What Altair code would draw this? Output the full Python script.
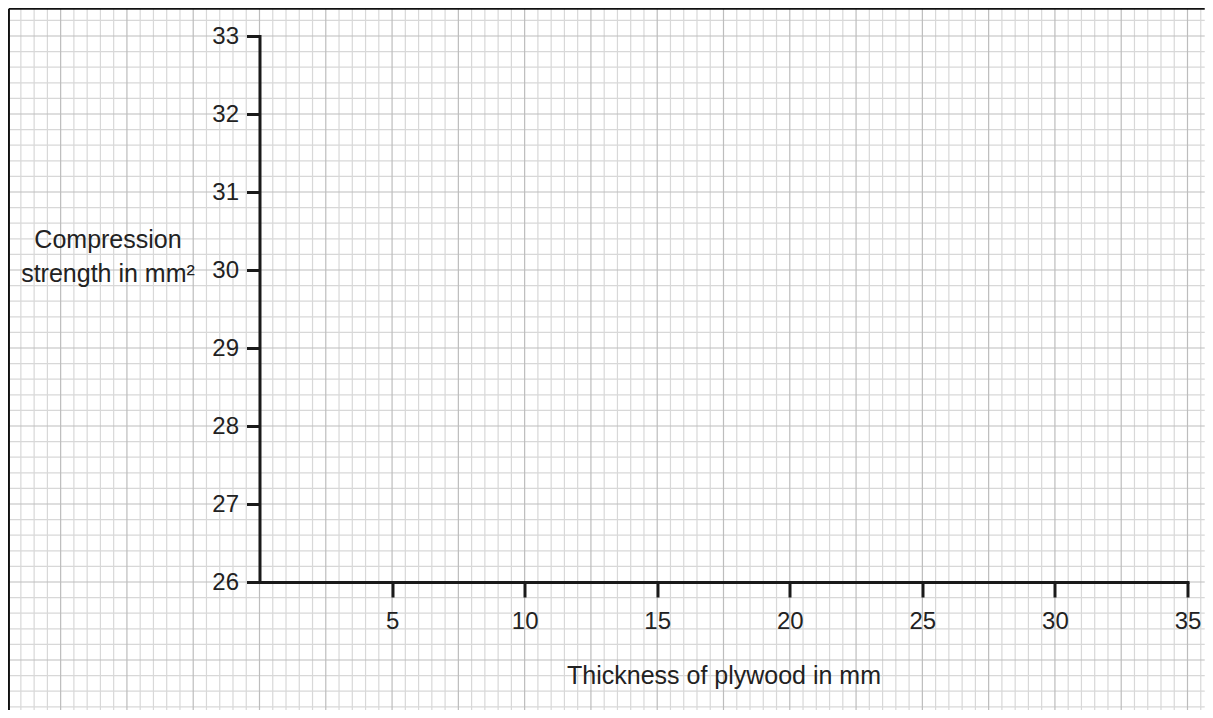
import altair as alt
import numpy as np
import pandas as pd

# ---- chart content -------------------------------------------------------
X_TICKS = [5, 10, 15, 20, 25, 30, 35]
Y_TICKS = [26, 27, 28, 29, 30, 31, 32, 33]
X_DOMAIN = [0, 35]
Y_DOMAIN = [26, 33]
X_TITLE = "Thickness of plywood in mm"
Y_TITLE = ["Compression", "strength in mm²"]

# ---- graph-paper background (in data units) -------------------------------
GRID_X = np.round(np.arange(-9.0, 35.51, 0.5), 2)
GRID_Y = np.round(np.arange(24.4, 33.21, 0.2), 2)
PAPER_X = [-9.45, 35.65]
PAPER_Y = [24.35, 33.35]

FONT = "Liberation Sans"
INK = "#222222"
AXIS_INK = "#1a1a1a"

vgrid = pd.DataFrame({"x": GRID_X, "y": PAPER_Y[0], "y2": PAPER_Y[1]})
vgrid["major"] = np.isclose(np.mod(vgrid["x"], 2.5), 0) | np.isclose(np.mod(vgrid["x"], 2.5), 2.5)
hgrid = pd.DataFrame({"y": GRID_Y, "x": PAPER_X[0], "x2": PAPER_X[1]})
hgrid["major"] = np.isclose(hgrid["y"], np.round(hgrid["y"]))

xs = alt.Scale(domain=X_DOMAIN, nice=False, zero=False)
ys = alt.Scale(domain=Y_DOMAIN, nice=False, zero=False)

x_axis = alt.Axis(
    values=X_TICKS, title=X_TITLE, grid=False, format="d",
    domainColor=AXIS_INK, domainWidth=3, domainCap="square",
    tickColor=AXIS_INK, tickWidth=3, tickSize=15,
    labelFont=FONT, labelFontSize=24, labelColor=INK, labelPadding=12,
    labelFlush=False, labelOverlap=False, labelBound=False,
    titleFont=FONT, titleFontSize=25, titleFontWeight="normal", titleColor=INK,
    titleBaseline="alphabetic", titleY=101, zindex=1,
)
y_axis = alt.Axis(
    values=Y_TICKS, title=Y_TITLE, grid=False, format="d",
    domainColor=AXIS_INK, domainWidth=3, domainCap="square",
    tickColor=AXIS_INK, tickWidth=3, tickSize=13,
    labelFont=FONT, labelFontSize=24, labelColor=INK, labelPadding=8,
    labelBaseline="middle", labelFlush=False, labelOverlap=False, labelBound=False,
    titleFont=FONT, titleFontSize=25, titleFontWeight="normal", titleColor=INK,
    titleAngle=0, titleAlign="center", titleBaseline="alphabetic",
    titleX=-152, titleY=211, titleLineHeight=34, zindex=1,
)

def vlayer(df, color, width):
    return alt.Chart(df).mark_rule(color=color, strokeWidth=width).encode(
        x=alt.X("x:Q", scale=xs, axis=x_axis),
        y=alt.Y("y:Q", scale=ys, axis=y_axis),
        y2="y2:Q",
    )

def hlayer(df, color, width):
    return alt.Chart(df).mark_rule(color=color, strokeWidth=width).encode(
        x=alt.X("x:Q", scale=xs, axis=x_axis),
        x2="x2:Q",
        y=alt.Y("y:Q", scale=ys, axis=y_axis),
    )

minor_v = vlayer(vgrid[~vgrid["major"]], "#d8d8d8", 1.2)
minor_h = hlayer(hgrid[~hgrid["major"]], "#d8d8d8", 1.2)
major_v = vlayer(vgrid[vgrid["major"]], "#bdbdbd", 1.2)
major_h = hlayer(hgrid[hgrid["major"]], "#bdbdbd", 1.2)

# frame of the page (left and top edges)
frame_left = vlayer(pd.DataFrame({"x": [PAPER_X[0]], "y": [PAPER_Y[0]], "y2": [PAPER_Y[1]]}), "#111111", 2)
frame_top = hlayer(pd.DataFrame({"y": [PAPER_Y[1]], "x": [PAPER_X[0]], "x2": [PAPER_X[1]]}), "#111111", 2)

chart = alt.layer(minor_v, minor_h, major_v, major_h, frame_left, frame_top).properties(
    width=928, height=546,
    padding={"left": 251.5, "top": 28, "right": 17, "bottom": 128},
    autosize=alt.AutoSizeParams(type="none"),
    background="white",
).configure_view(stroke=None)

chart.save("out.html", embed_options={"renderer": "svg", "actions": False})
